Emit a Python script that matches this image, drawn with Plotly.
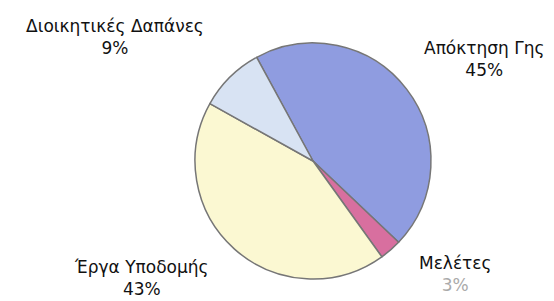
import plotly.graph_objects as go

labels = ["Απόκτηση Γης", "Μελέτες", "Έργα Υποδομής", "Διοικητικές Δαπάνες"]
values = [45, 3, 43, 9]

colors = ["#8f9ce0", "#d86f9f", "#fbf8d2", "#d8e3f3"]
pct_colors = ["#111111", "#aaaaaa", "#111111", "#111111"]
# label anchor positions (pixels from top-left, centre of the text block)
label_px = [(476, 51), (448, 266), (133, 270), (107, 29)]

W, H = 554, 301
cx, cy, r = 305, 153, 118

fig = go.Figure(go.Pie(
    labels=labels, values=values, sort=False, direction="clockwise",
    rotation=-28.5,
    marker=dict(colors=colors, line=dict(color="#767676", width=1.5)),
    textinfo="none", hoverinfo="skip", showlegend=False,
    domain=dict(x=[(cx - r) / W, (cx + r) / W], y=[(H - cy - r) / H, (H - cy + r) / H]),
))

for lab, val, pc, (px, py) in zip(labels, values, pct_colors, label_px):
    fig.add_annotation(
        x=px / W, y=1 - py / H, xref="paper", yref="paper", showarrow=False,
        text=f"{lab}<br><span style='color:{pc}'>{val}%</span>",
        font=dict(family="DejaVu Sans, sans-serif", size=17, color="#111111"),
        align="center", xanchor="center", yanchor="middle",
    )

fig.update_layout(width=W, height=H, margin=dict(l=0, r=0, t=0, b=0),
                  paper_bgcolor="white", plot_bgcolor="white")
fig.write_html("out.html")
